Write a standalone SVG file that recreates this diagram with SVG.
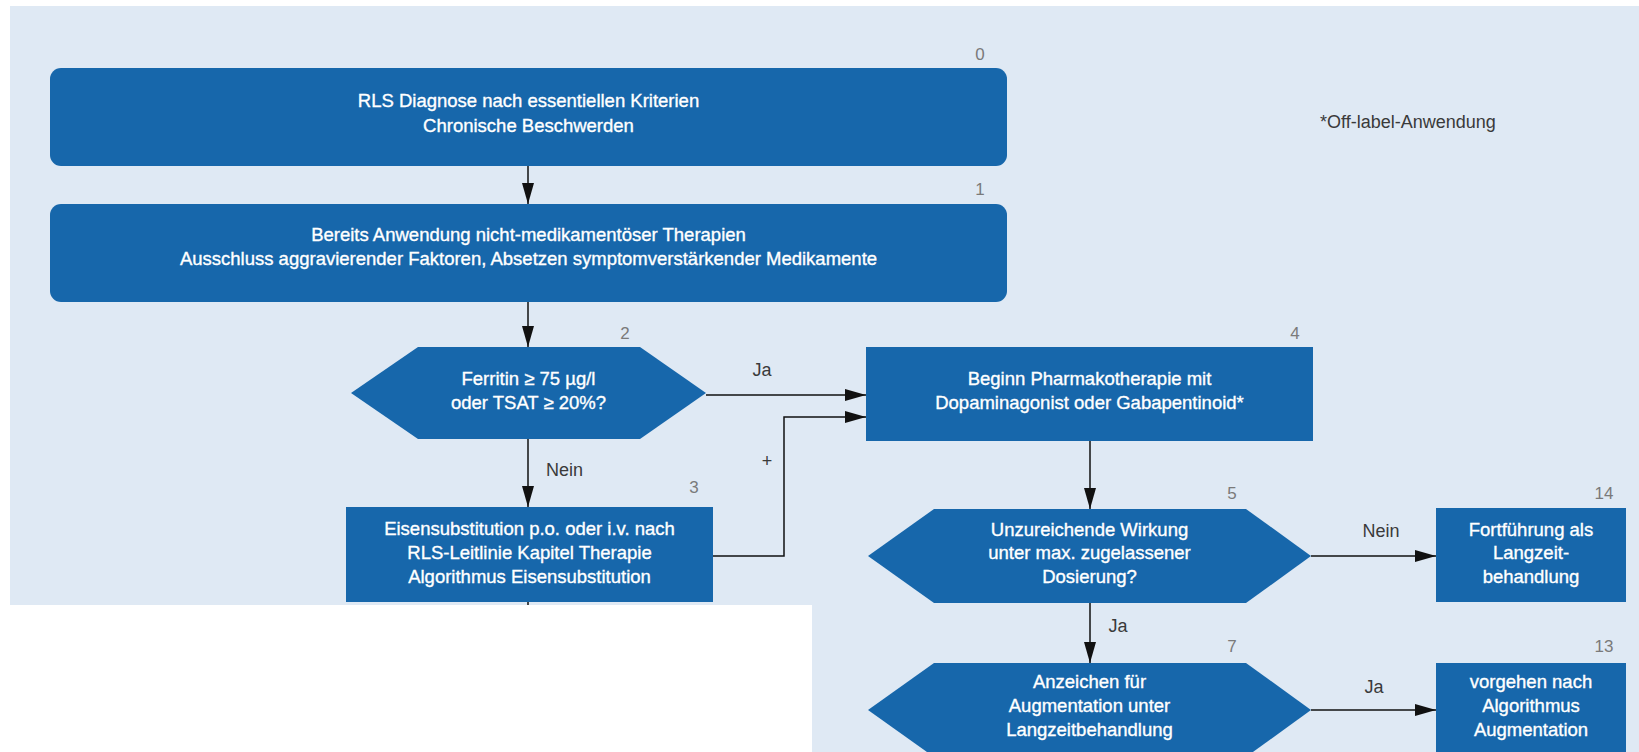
<svg xmlns="http://www.w3.org/2000/svg" width="1639" height="752" viewBox="0 0 1639 752">
  <style>
    .box { fill: #1767ab; }
    .t { font-family: "Liberation Sans", Arial, sans-serif; font-size: 18.5px; fill: #ffffff; stroke: #ffffff; stroke-width: 0.35; text-anchor: middle; }
    .num { font-family: "Liberation Sans", Arial, sans-serif; font-size: 17px; fill: #7a7a7a; text-anchor: middle; }
    .lbl { font-family: "Liberation Sans", Arial, sans-serif; font-size: 18px; fill: #3a3a3a; }
    .edge { fill: none; stroke: #111111; stroke-width: 1.5; }
  </style>
  <defs>
    <marker id="arrow" markerUnits="userSpaceOnUse" markerWidth="21" markerHeight="12" refX="21" refY="6" orient="auto">
      <path d="M0,0 L21,6 L0,12 z" fill="#111111"/>
    </marker>
  </defs>

  <!-- page background -->
  <rect x="0" y="0" width="1639" height="752" fill="#ffffff"/>
  <rect x="10" y="6" width="1629" height="746" fill="#dfe9f4"/>

  <!-- connectors -->
  <g id="connectors">
    <path class="edge" d="M528,166 V204" marker-end="url(#arrow)"/>
    <path class="edge" d="M528,302 V347" marker-end="url(#arrow)"/>
    <path class="edge" d="M706,395 H866" marker-end="url(#arrow)"/>
    <path class="edge" d="M713,556 H784 V417 H866" marker-end="url(#arrow)"/>
    <path class="edge" d="M528,439 V507" marker-end="url(#arrow)"/>
    <path class="edge" d="M528,602 V608"/>
    <path class="edge" d="M1090,441 V509" marker-end="url(#arrow)"/>
    <path class="edge" d="M1311,556 H1436" marker-end="url(#arrow)"/>
    <path class="edge" d="M1090,603 V663" marker-end="url(#arrow)"/>
    <path class="edge" d="M1311,710 H1436" marker-end="url(#arrow)"/>
    <text class="lbl" x="762" y="376" text-anchor="middle">Ja</text>
    <text class="lbl" x="767" y="467" text-anchor="middle">+</text>
    <text class="lbl" x="546" y="476">Nein</text>
    <text class="lbl" x="1381" y="537" text-anchor="middle">Nein</text>
    <text class="lbl" x="1118" y="632" text-anchor="middle">Ja</text>
    <text class="lbl" x="1374" y="693" text-anchor="middle">Ja</text>
  </g>

  <g id="n0">
    <rect class="box" x="50" y="68" width="957" height="98" rx="11"/>
    <text class="num" x="980" y="60">0</text>
    <text class="t" x="528.5" y="107">RLS Diagnose nach essentiellen Kriterien</text>
    <text class="t" x="528.5" y="132">Chronische Beschwerden</text>
  </g>

  <g id="n1">
    <rect class="box" x="50" y="204" width="957" height="98" rx="11"/>
    <text class="num" x="980" y="195">1</text>
    <text class="t" x="528.5" y="241">Bereits Anwendung nicht-medikamentöser Therapien</text>
    <text class="t" x="528.5" y="265">Ausschluss aggravierender Faktoren, Absetzen symptomverstärkender Medikamente</text>
  </g>

  <g id="n2">
    <polygon class="box" points="351,393 418,347 640,347 706,393 640,439 418,439"/>
    <text class="num" x="625" y="339">2</text>
    <text class="t" x="528.5" y="385">Ferritin ≥ 75 µg/l</text>
    <text class="t" x="528.5" y="409">oder TSAT ≥ 20%?</text>
  </g>

  <g id="n3">
    <rect class="box" x="346" y="507" width="367" height="95"/>
    <text class="num" x="694" y="493">3</text>
    <text class="t" x="529.5" y="535">Eisensubstitution p.o. oder i.v. nach</text>
    <text class="t" x="529.5" y="559">RLS-Leitlinie Kapitel Therapie</text>
    <text class="t" x="529.5" y="583">Algorithmus Eisensubstitution</text>
  </g>

  <g id="n4">
    <rect class="box" x="866" y="347" width="447" height="94"/>
    <text class="num" x="1295" y="339">4</text>
    <text class="t" x="1089.5" y="385">Beginn Pharmakotherapie mit</text>
    <text class="t" x="1089.5" y="409">Dopaminagonist oder Gabapentinoid*</text>
  </g>

  <g id="n5">
    <polygon class="box" points="868,556 934,509 1246,509 1311,556 1246,603 934,603"/>
    <text class="num" x="1232" y="499">5</text>
    <text class="t" x="1089.5" y="536">Unzureichende Wirkung</text>
    <text class="t" x="1089.5" y="559">unter max. zugelassener</text>
    <text class="t" x="1089.5" y="583">Dosierung?</text>
  </g>

  <g id="n14">
    <rect class="box" x="1436" y="508" width="190" height="94"/>
    <text class="num" x="1604" y="499">14</text>
    <text class="t" x="1531" y="536">Fortführung als</text>
    <text class="t" x="1531" y="559">Langzeit-</text>
    <text class="t" x="1531" y="583">behandlung</text>
  </g>

  <g id="n7">
    <polygon class="box" points="868,710 934,663 1246,663 1311,710 1246,757 934,757"/>
    <text class="num" x="1232" y="652">7</text>
    <text class="t" x="1089.5" y="688">Anzeichen für</text>
    <text class="t" x="1089.5" y="712">Augmentation unter</text>
    <text class="t" x="1089.5" y="736">Langzeitbehandlung</text>
  </g>

  <g id="n13">
    <rect class="box" x="1436" y="663" width="190" height="100"/>
    <text class="num" x="1604" y="652">13</text>
    <text class="t" x="1531" y="688">vorgehen nach</text>
    <text class="t" x="1531" y="712">Algorithmus</text>
    <text class="t" x="1531" y="736">Augmentation</text>
  </g>

  <g id="note">
    <text class="lbl" x="1320" y="128" font-size="18.5">*Off-label-Anwendung</text>
  </g>

  <!-- blank lower-left panel -->
  <rect x="0" y="605" width="812" height="147" fill="#ffffff"/>
</svg>
